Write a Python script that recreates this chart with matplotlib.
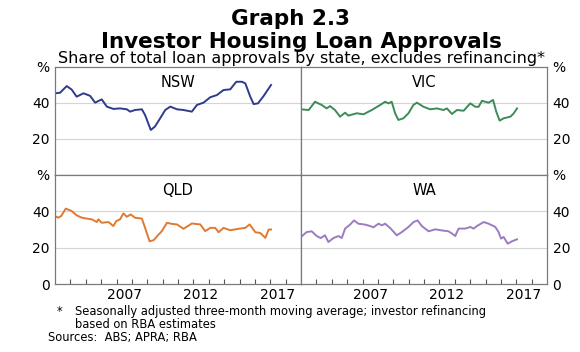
import matplotlib
matplotlib.use('Agg')
import matplotlib.pyplot as plt

plt.rcParams['font.family'] = ['DejaVu Sans']

# Values (year, % share)
nsw_years = [2003.0, 2003.33, 2003.76, 2004.08, 2004.41, 2004.85, 2005.28, 2005.61, 2006.04, 2006.37,
             2006.8, 2007.23, 2007.67, 2007.89, 2008.2, 2008.65, 2008.86, 2009.23, 2009.5, 2009.84,
             2010.17, 2010.5, 2010.93, 2011.36, 2011.9, 2012.23, 2012.66, 2013.1, 2013.53, 2013.96,
             2014.4, 2014.79, 2015.16, 2015.38, 2015.7, 2015.92, 2016.2, 2016.57, 2017.05]
nsw_values = [45.4, 45.7, 49.4, 47.5, 43.5, 45.4, 44.0, 40.2, 42.0, 38.0,
              36.7, 37.0, 36.5, 35.2, 36.1, 36.5, 33.3, 25.0, 26.9, 31.5,
              36.1, 38.0, 36.5, 36.1, 35.2, 38.9, 40.2, 43.2, 44.4, 47.2,
              47.6, 51.8, 51.8, 50.9, 43.5, 39.4, 39.8, 43.9, 50.0]

vic_years = [2003.0, 2003.5, 2003.91, 2004.35, 2004.67, 2004.89, 2005.21, 2005.54, 2005.87, 2006.08,
             2006.63, 2007.06, 2007.6, 2008.15, 2008.47, 2008.69, 2008.9, 2009.12, 2009.33, 2009.66,
             2009.99, 2010.31, 2010.54, 2010.97, 2011.4, 2011.84, 2012.27, 2012.49, 2012.82, 2013.14,
             2013.58, 2014.01, 2014.34, 2014.55, 2014.77, 2015.2, 2015.49, 2015.7, 2015.92, 2016.18,
             2016.62, 2016.84, 2017.05]
vic_values = [36.5, 36.1, 40.7, 38.9, 37.0, 38.3, 36.1, 32.4, 34.6, 33.0,
              34.3, 33.7, 36.1, 38.9, 40.7, 39.8, 40.7, 34.3, 30.6, 31.5,
              34.3, 38.9, 40.2, 37.9, 36.5, 37.0, 36.1, 37.0, 33.9, 36.1,
              35.7, 39.8, 37.9, 37.9, 41.2, 40.2, 41.7, 35.2, 30.2, 31.5,
              32.4, 34.3, 37.0]

qld_years = [2003.0, 2003.2, 2003.4, 2003.7, 2004.08, 2004.41, 2004.74, 2005.06, 2005.39, 2005.72,
             2005.82, 2006.04, 2006.48, 2006.8, 2006.98, 2007.23, 2007.45, 2007.67, 2007.93, 2008.2,
             2008.65, 2008.86, 2009.15, 2009.41, 2009.74, 2009.95, 2010.28, 2010.6, 2010.93, 2011.36,
             2011.9, 2012.45, 2012.77, 2013.1, 2013.42, 2013.64, 2013.96, 2014.4, 2014.94, 2015.38,
             2015.66, 2016.03, 2016.35, 2016.68, 2016.9, 2017.05]
qld_values = [37.4, 36.5, 37.4, 41.5, 40.2, 37.8, 36.5, 36.0, 35.6, 34.1,
              35.6, 33.7, 34.1, 31.9, 34.6, 35.6, 38.9, 37.0, 38.3, 36.5,
              36.0, 30.9, 23.5, 24.1, 27.2, 29.1, 33.7, 33.1, 32.8, 30.4,
              33.3, 32.8, 29.1, 30.9, 30.9, 28.5, 30.9, 29.6, 30.4, 30.9,
              32.8, 28.5, 28.1, 25.4, 30.0, 30.0]

wa_years = [2003.0, 2003.37, 2003.7, 2004.02, 2004.28, 2004.56, 2004.78, 2005.11, 2005.43, 2005.65,
            2005.87, 2006.19, 2006.45, 2006.73, 2007.17, 2007.5, 2007.71, 2008.04, 2008.26, 2008.47,
            2008.8, 2009.23, 2009.56, 2009.99, 2010.32, 2010.58, 2010.86, 2011.3, 2011.73, 2012.16,
            2012.6, 2012.92, 2013.03, 2013.25, 2013.68, 2014.01, 2014.23, 2014.44, 2014.88, 2015.2,
            2015.64, 2015.85, 2016.01, 2016.18, 2016.44, 2016.72, 2017.05]
wa_values = [25.9, 28.6, 29.0, 26.4, 25.3, 26.8, 23.1, 25.3, 26.4, 25.3,
             30.5, 32.7, 35.0, 33.2, 32.7, 31.9, 31.2, 33.2, 32.3, 33.2,
             30.8, 26.8, 28.6, 31.4, 34.1, 35.0, 31.9, 29.0, 30.1, 29.5,
             29.0, 27.2, 26.4, 30.5, 30.5, 31.4, 30.5, 31.9, 34.1, 33.2,
             31.4, 28.6, 25.0, 25.9, 22.2, 23.5, 24.6]

year_labels = ['2007', '2012', '2017']
label_pos = [2007.5, 2012.5, 2017.5]
year_ticks = list(range(2004, 2019))

W, H = 580, 352
fig = plt.figure(figsize=(W / 100, H / 100), dpi=100)


def box(x0, y0, x1, y1):
    # pixel box (from top-left) -> figure fraction rect
    return [x0 / W, 1 - y1 / H, (x1 - x0) / W, (y1 - y0) / H]


def drawPanel(rect, years, values, color, name, right, bottom):
    ax = fig.add_axes(rect)
    ax.plot(years, values, color=color, lw=1.4)
    ax.set_xlim(2003, 2019)
    ax.set_ylim(0, 60)
    if bottom:
        ax.set_yticks([0, 20, 40, 60])
        ax.set_yticklabels(['0', '20', '40', '%'])
    else:
        ax.set_yticks([20, 40, 60])
        ax.set_yticklabels(['20', '40', '%'])
    for v in [20, 40]:
        ax.axhline(v, color='#d4d4d4', lw=0.8, zorder=0)
    ax.tick_params(axis='y', length=0, labelsize=10, pad=4,
                   left=not right, labelleft=not right,
                   right=right, labelright=right)
    ax.set_xticks(year_ticks)
    ax.set_xticklabels([])
    ax.set_xticks(label_pos, minor=True)
    if bottom:
        ax.set_xticklabels(year_labels, minor=True)
        ax.tick_params(axis='x', which='major', direction='in', length=3.5, width=0.8, color='#555555')
    else:
        ax.tick_params(axis='x', which='major', length=0)
    ax.tick_params(axis='x', which='minor', length=0, labelsize=10, pad=3)
    for s in ax.spines.values():
        s.set_color('#7a7a7a')
        s.set_linewidth(0.9)
    ax.text(0.5, 0.93, name, transform=ax.transAxes, ha='center', va='top', fontsize=10.5)
    return ax


drawPanel(box(55, 67, 301, 175), nsw_years, nsw_values, '#2f3a8f', 'NSW', False, False)
drawPanel(box(301, 67, 547, 175), vic_years, vic_values, '#3b8c58', 'VIC', True, False)
drawPanel(box(55, 175, 301, 284), qld_years, qld_values, '#e07a33', 'QLD', False, True)
drawPanel(box(301, 175, 547, 284), wa_years, wa_values, '#9b7cc0', 'WA', True, True)

fig.text(291 / W, 1 - 19 / H, 'Graph 2.3', ha='center', va='center', fontsize=15.5, fontweight='bold')
fig.text(301 / W, 1 - 42 / H, 'Investor Housing Loan Approvals', ha='center', va='center',
         fontsize=15.5, fontweight='bold')
fig.text(301 / W, 1 - 59 / H, 'Share of total loan approvals by state, excludes refinancing*',
         ha='center', va='center', fontsize=11.5)

fig.text(57 / W, 1 - 312 / H, '*', ha='left', va='center', fontsize=8.3)
fig.text(75 / W, 1 - 312 / H, 'Seasonally adjusted three-month moving average; investor refinancing',
         ha='left', va='center', fontsize=8.3)
fig.text(75 / W, 1 - 324 / H, 'based on RBA estimates', ha='left', va='center', fontsize=8.3)
fig.text(48 / W, 1 - 338 / H, 'Sources:  ABS; APRA; RBA', ha='left', va='center', fontsize=8.3)

fig.savefig('out.png', dpi=100)
